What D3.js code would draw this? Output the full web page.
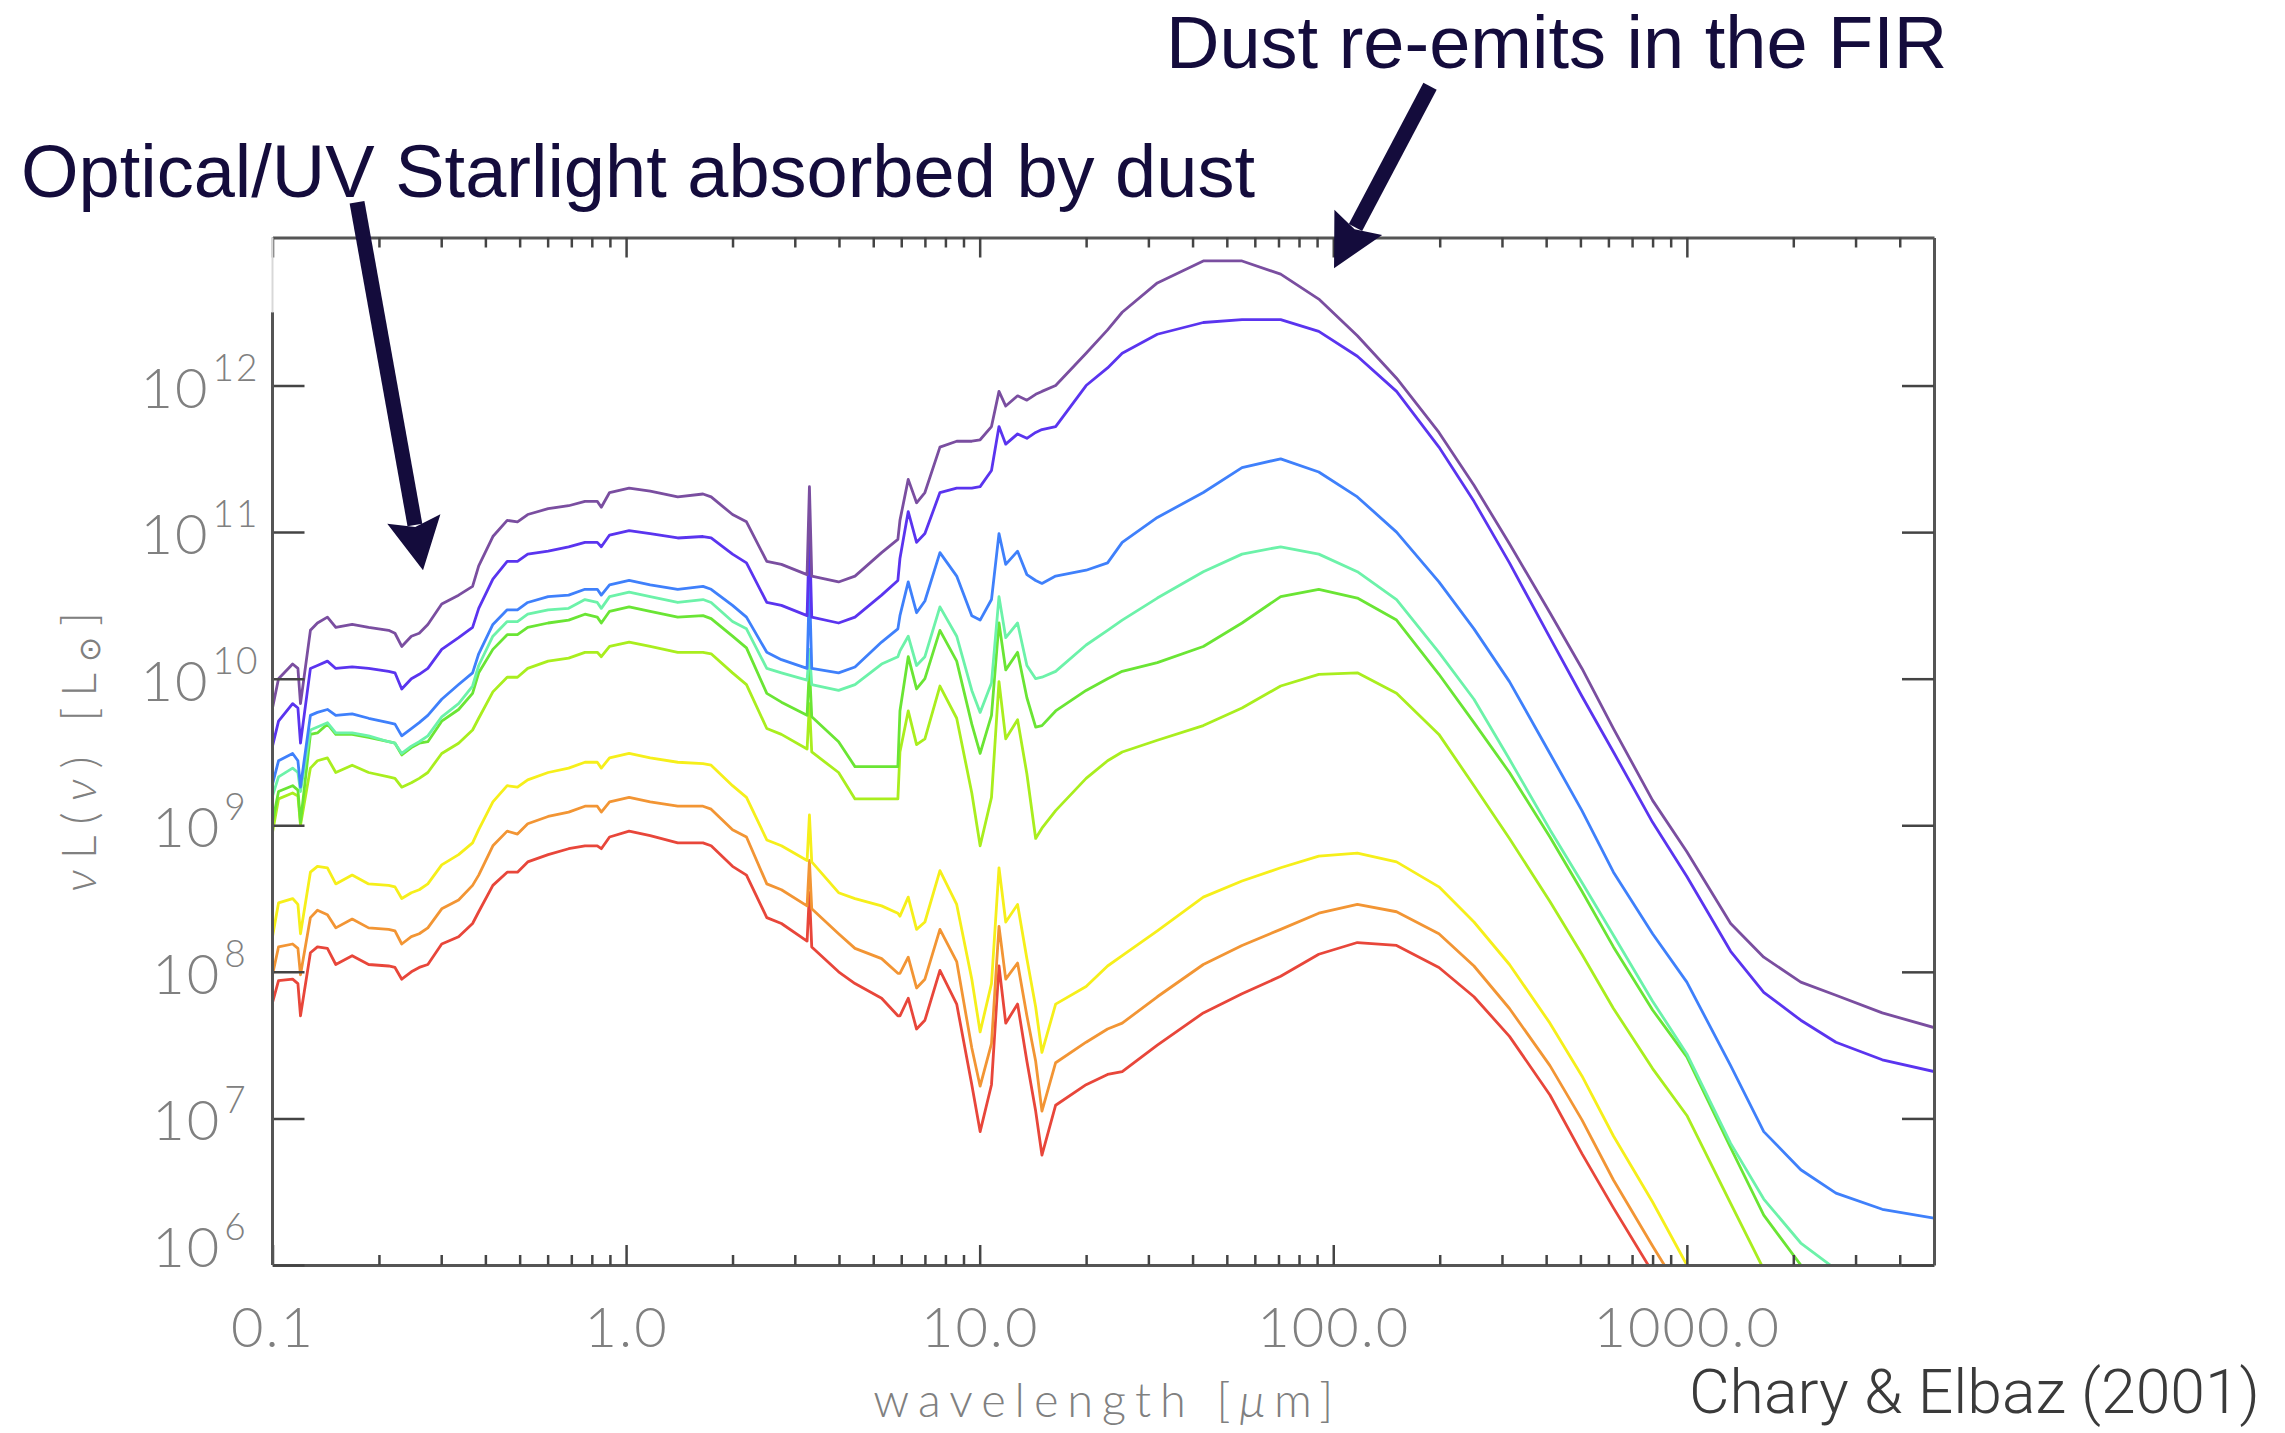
<!DOCTYPE html>
<html lang="en">
<head>
<meta charset="UTF-8">
<title>Chary &amp; Elbaz (2001) SED templates</title>
<script src="https://d3js.org/d3.v7.min.js"></script>
<style>
  body {
    margin: 0;
    background-color: #ffffff;
  }
  .axis .domain {
    stroke: #555;
    stroke-width: 3;
  }
  .axis .tick line {
    stroke: #444;
    stroke-width: 2.5;
  }
  .axis text, .ylabels text {
    font-family: Lato, "DejaVu Sans", sans-serif;
    font-weight: 300;
    font-size: 56px;
    letter-spacing: 2px;
    fill: #808080;
  }
  .title {
    font-family: Lato, "DejaVu Sans", sans-serif;
    font-weight: 300;
    font-size: 47px;
    fill: #808080;
  }
  .note {
    font-family: "Liberation Sans", Arial, sans-serif;
    font-size: 74px;
    fill: #140c3c;
  }
  .cite {
    font-family: Roboto, "Liberation Sans", sans-serif;
    font-weight: 300;
    font-size: 62px;
    fill: #3a3a3a;
  }
</style>
</head>
<body>
<svg id="sed"></svg>

<script>
// wavelength grid in micron
var wavelength = [
  0.100, 0.104, 0.114, 0.118, 0.120, 0.128, 0.134, 0.143, 0.151, 0.168,
  0.187, 0.213, 0.222, 0.232, 0.247, 0.260, 0.275, 0.301, 0.336, 0.368,
  0.383, 0.420, 0.461, 0.493, 0.527, 0.602, 0.688, 0.765, 0.829, 0.851,
  0.898, 1.02, 1.17, 1.40, 1.65, 1.74, 2.00, 2.19, 2.50, 2.75,
  3.25, 3.30, 3.35, 3.99, 4.44, 5.28, 5.87, 5.95, 6.28, 6.63,
  7.00, 7.72, 8.61, 9.50, 10.03, 10.8, 11.34, 11.85, 12.8, 13.6,
  14.4, 15.0, 16.4, 20, 23, 25.3, 31.8, 42.9, 55.2, 71,
  91, 117, 151, 199, 250, 315, 410, 505, 620, 800,
  1000, 1330, 1650, 2100, 2640, 3570, 5000
];

// log10 of nuL(nu) in L_sun, one template per array, brightest first
var sed1 = [
  9.80, 10.00, 10.10, 10.07, 9.83, 10.33, 10.38, 10.42, 10.35, 10.37,
  10.35, 10.33, 10.31, 10.22, 10.29, 10.31, 10.37, 10.51, 10.57, 10.63,
  10.77, 10.97, 11.08, 11.07, 11.12, 11.16, 11.18, 11.21, 11.21, 11.17,
  11.27, 11.30, 11.28, 11.24, 11.26, 11.24, 11.12, 11.07, 10.80, 10.78,
  10.71, 11.31, 10.70, 10.66, 10.70, 10.86, 10.95, 11.08, 11.36, 11.20,
  11.27, 11.58, 11.62, 11.62, 11.63, 11.72, 11.96, 11.86, 11.93, 11.90,
  11.94, 11.96, 12.00, 12.22, 12.38, 12.50, 12.70, 12.85, 12.85, 12.76,
  12.59, 12.34, 12.05, 11.68, 11.32, 10.92, 10.45, 10.07, 9.66, 9.17,
  8.82, 8.33, 8.10, 7.93, 7.84, 7.72, 7.62
];
var sed2 = [
  9.54, 9.71, 9.83, 9.80, 9.56, 10.07, 10.09, 10.12, 10.07, 10.08,
  10.07, 10.05, 10.04, 9.93, 10.00, 10.03, 10.07, 10.20, 10.28, 10.35,
  10.48, 10.68, 10.80, 10.80, 10.85, 10.87, 10.90, 10.93, 10.93, 10.90,
  10.98, 11.01, 10.99, 10.96, 10.97, 10.96, 10.85, 10.79, 10.52, 10.50,
  10.43, 11.02, 10.42, 10.38, 10.42, 10.57, 10.67, 10.82, 11.14, 10.93,
  10.99, 11.27, 11.30, 11.30, 11.31, 11.42, 11.72, 11.60, 11.67, 11.64,
  11.68, 11.70, 11.72, 12.00, 12.12, 12.22, 12.35, 12.43, 12.45, 12.45,
  12.37, 12.20, 11.96, 11.58, 11.21, 10.79, 10.28, 9.88, 9.50, 9.02,
  8.65, 8.14, 7.86, 7.67, 7.52, 7.40, 7.32
];
var sed3 = [
  9.28, 9.44, 9.49, 9.44, 9.26, 9.75, 9.77, 9.79, 9.75, 9.76,
  9.73, 9.70, 9.69, 9.61, 9.66, 9.70, 9.75, 9.86, 9.96, 10.04,
  10.17, 10.37, 10.47, 10.47, 10.52, 10.56, 10.57, 10.61, 10.61, 10.57,
  10.64, 10.67, 10.64, 10.61, 10.63, 10.61, 10.50, 10.42, 10.18, 10.13,
  10.07, 10.65, 10.07, 10.04, 10.08, 10.25, 10.34, 10.43, 10.66, 10.45,
  10.53, 10.86, 10.70, 10.43, 10.40, 10.54, 10.99, 10.78, 10.87, 10.71,
  10.67, 10.65, 10.70, 10.74, 10.79, 10.93, 11.10, 11.27, 11.44, 11.50,
  11.41, 11.24, 11.00, 10.66, 10.34, 9.98, 9.49, 9.10, 8.68, 8.26,
  7.93, 7.36, 6.91, 6.65, 6.49, 6.38, 6.32
];
var sed4 = [
  9.20, 9.33, 9.39, 9.36, 9.23, 9.65, 9.67, 9.70, 9.63, 9.63,
  9.61, 9.57, 9.56, 9.49, 9.54, 9.57, 9.61, 9.74, 9.83, 9.95,
  10.09, 10.29, 10.39, 10.39, 10.44, 10.47, 10.48, 10.54, 10.52, 10.48,
  10.56, 10.59, 10.56, 10.52, 10.54, 10.52, 10.39, 10.34, 10.07, 10.04,
  9.99, 10.20, 9.96, 9.92, 9.96, 10.10, 10.15, 10.19, 10.29, 10.09,
  10.15, 10.49, 10.29, 9.92, 9.77, 9.97, 10.56, 10.28, 10.38, 10.09,
  10.00, 10.01, 10.05, 10.23, 10.33, 10.40, 10.55, 10.73, 10.85, 10.90,
  10.85, 10.73, 10.54, 10.18, 9.86, 9.45, 8.97, 8.61, 8.25, 7.80,
  7.44, 6.83, 6.45, 6.15, 5.97, 5.55, null
];
var sed5 = [
  9.02, 9.23, 9.27, 9.24, 9.02, 9.62, 9.63, 9.69, 9.62, 9.62,
  9.60, 9.57, 9.56, 9.48, 9.53, 9.56, 9.57, 9.71, 9.79, 9.90,
  10.04, 10.20, 10.30, 10.30, 10.35, 10.38, 10.40, 10.44, 10.42, 10.38,
  10.46, 10.49, 10.46, 10.42, 10.43, 10.41, 10.29, 10.21, 9.90, 9.84,
  9.75, 10.08, 9.74, 9.57, 9.40, 9.40, 9.40, 9.78, 10.15, 9.93,
  10.00, 10.33, 10.12, 9.69, 9.49, 9.75, 10.38, 10.06, 10.18, 9.87,
  9.67, 9.68, 9.78, 9.92, 10.00, 10.05, 10.11, 10.22, 10.38, 10.56,
  10.61, 10.55, 10.40, 10.03, 9.70, 9.36, 8.92, 8.55, 8.17, 7.74,
  7.42, 6.80, 6.34, 6.00, 5.60, null, null
];
var sed6 = [
  8.95, 9.18, 9.22, 9.20, 9.00, 9.39, 9.44, 9.46, 9.36, 9.41,
  9.36, 9.33, 9.32, 9.26, 9.29, 9.32, 9.36, 9.49, 9.56, 9.65,
  9.73, 9.91, 10.01, 10.01, 10.07, 10.12, 10.14, 10.18, 10.18, 10.15,
  10.22, 10.25, 10.22, 10.18, 10.18, 10.17, 10.04, 9.96, 9.66, 9.62,
  9.52, 9.83, 9.50, 9.36, 9.18, 9.18, 9.18, 9.50, 9.78, 9.55,
  9.59, 9.95, 9.73, 9.22, 8.86, 9.19, 9.98, 9.59, 9.72, 9.35,
  8.91, 8.98, 9.10, 9.32, 9.44, 9.50, 9.58, 9.68, 9.80, 9.95,
  10.03, 10.04, 9.90, 9.62, 9.27, 8.91, 8.48, 8.12, 7.75, 7.34,
  7.02, 6.42, 5.97, 5.50, null, null, null
];
var sed7 = [
  8.24, 8.47, 8.50, 8.46, 8.26, 8.68, 8.72, 8.71, 8.60, 8.66,
  8.60, 8.59, 8.58, 8.50, 8.54, 8.56, 8.60, 8.73, 8.80, 8.88,
  8.97, 9.16, 9.27, 9.26, 9.31, 9.36, 9.39, 9.43, 9.43, 9.39,
  9.46, 9.49, 9.46, 9.43, 9.42, 9.41, 9.27, 9.19, 8.90, 8.86,
  8.76, 9.07, 8.75, 8.54, 8.50, 8.45, 8.40, 8.38, 8.51, 8.29,
  8.34, 8.69, 8.46, 7.95, 7.59, 7.92, 8.71, 8.34, 8.46, 8.09,
  7.76, 7.45, 7.78, 7.90, 8.04, 8.11, 8.28, 8.51, 8.62, 8.71,
  8.79, 8.81, 8.75, 8.58, 8.34, 8.05, 7.65, 7.29, 6.88, 6.43,
  6.00, 5.40, null, null, null, null, null
];
var sed8 = [
  7.98, 8.17, 8.19, 8.16, 7.98, 8.37, 8.42, 8.39, 8.30, 8.36,
  8.30, 8.29, 8.28, 8.19, 8.24, 8.26, 8.30, 8.43, 8.49, 8.59,
  8.66, 8.86, 8.96, 8.94, 9.01, 9.06, 9.09, 9.13, 9.13, 9.09,
  9.16, 9.19, 9.16, 9.13, 9.13, 9.11, 8.97, 8.92, 8.60, 8.56,
  8.45, 8.76, 8.43, 8.26, 8.16, 8.09, 7.99, 7.99, 8.10, 7.89,
  7.95, 8.29, 8.07, 7.48, 7.22, 7.51, 8.31, 7.95, 8.06, 7.70,
  7.39, 7.05, 7.38, 7.52, 7.61, 7.65, 7.83, 8.05, 8.18, 8.29,
  8.40, 8.46, 8.41, 8.26, 8.04, 7.75, 7.36, 6.99, 6.58, 6.13,
  5.75, 5.20, null, null, null, null, null
];
var sed9 = [
  7.79, 7.94, 7.95, 7.92, 7.70, 8.13, 8.17, 8.16, 8.05, 8.11,
  8.05, 8.04, 8.03, 7.95, 8.00, 8.03, 8.05, 8.19, 8.24, 8.33,
  8.41, 8.59, 8.68, 8.68, 8.75, 8.80, 8.84, 8.86, 8.86, 8.84,
  8.92, 8.96, 8.93, 8.88, 8.88, 8.86, 8.72, 8.66, 8.37, 8.33,
  8.21, 8.54, 8.17, 8.00, 7.92, 7.82, 7.70, 7.70, 7.82, 7.61,
  7.67, 8.01, 7.78, 7.23, 6.91, 7.23, 8.04, 7.65, 7.78, 7.39,
  7.05, 6.75, 7.09, 7.23, 7.30, 7.32, 7.50, 7.72, 7.85, 7.97,
  8.12, 8.20, 8.18, 8.03, 7.83, 7.56, 7.16, 6.76, 6.39, 5.95,
  5.55, null, null, null, null, null, null
];

var sedColors = ["#7a4ea0", "#5a34ef", "#3f80fb", "#6cf2a9", "#6ae534",
                 "#a9ee1e", "#f6ef1a", "#f29534", "#e8463a"];

// axis ticks
var xMajor = [0.1, 1, 10, 100, 1000];
var xTickLabels = ["0.1", "1.0", "10.0", "100.0", "1000.0"];
var yExponents = [6, 7, 8, 9, 10, 11, 12];

// arrows: tip in data units, tail offset in pixels
var arrows = [
  { lam: 0.2665, logL: 10.74, dx: -66, dy: -368 },
  { lam: 100.5, logL: 12.80, dx: 96, dy: -182 }
];

var W = 2285, H = 1433;
var plot = { left: 272.5, right: 1934, top: 237.5, bottom: 1265 };

var svg = d3.select("#sed")
  .attr("width", W)
  .attr("height", H)
  .style("display", "block");

var x = d3.scaleLog().domain([0.1, 5000]).range([plot.left, plot.right]);
var y = d3.scaleLog().domain([1e6, Math.pow(10, 13.01)]).range([plot.bottom, plot.top]);

svg.append("clipPath").attr("id", "plotclip")
  .append("rect")
  .attr("x", plot.left).attr("y", plot.top)
  .attr("width", plot.right - plot.left)
  .attr("height", plot.bottom - plot.top);

// curves
var series = [sed1, sed2, sed3, sed4, sed5, sed6, sed7, sed8, sed9];
var line = d3.line()
  .defined(function(d) { return d[1] !== null; })
  .x(function(d) { return x(d[0]); })
  .y(function(d) { return y(Math.pow(10, d[1])); });

var curves = svg.append("g").attr("clip-path", "url(#plotclip)");
for (var s = series.length - 1; s >= 0; s--) {
  var pts = wavelength.map(function(w, i) { return [w, series[s][i]]; });
  curves.append("path")
    .datum(pts)
    .attr("fill", "none")
    .attr("stroke", sedColors[s])
    .attr("stroke-width", 2.8)
    .attr("stroke-linejoin", "round")
    .attr("d", line);
}

// minor ticks on the x axis
var xMinor = [];
[0.1, 1, 10, 100, 1000].forEach(function(dec) {
  for (var k = 2; k <= 9; k++) {
    if (k * dec < 4990) xMinor.push(k * dec);
  }
});

// bottom axis
svg.append("g").attr("class", "axis")
  .attr("transform", "translate(0," + plot.bottom + ")")
  .call(d3.axisBottom(x).tickValues(xMajor).tickSize(-20).tickSizeOuter(0)
    .tickPadding(42).tickFormat(function(d, i) { return xTickLabels[i]; }));
svg.append("g").attr("class", "axis")
  .attr("transform", "translate(0," + plot.bottom + ")")
  .call(d3.axisBottom(x).tickValues(xMinor).tickSize(-10).tickFormat(""))
  .select(".domain").remove();

// top axis
svg.append("g").attr("class", "axis")
  .attr("transform", "translate(0," + plot.top + ")")
  .call(d3.axisTop(x).tickValues(xMajor).tickSize(-20).tickSizeOuter(0).tickFormat(""));
svg.append("g").attr("class", "axis")
  .attr("transform", "translate(0," + plot.top + ")")
  .call(d3.axisTop(x).tickValues(xMinor).tickSize(-10).tickFormat(""))
  .select(".domain").remove();

// left axis (spine drawn by hand: its top part is faint in the original)
var yDecades = yExponents.map(function(e) { return Math.pow(10, e); });
svg.append("g").attr("class", "axis")
  .attr("transform", "translate(" + plot.left + ",0)")
  .call(d3.axisLeft(y).tickValues(yDecades).tickSize(-32).tickFormat(""))
  .select(".domain").remove();
svg.append("line")
  .attr("x1", plot.left).attr("x2", plot.left)
  .attr("y1", y(Math.pow(10, 12.5))).attr("y2", plot.bottom)
  .attr("stroke", "#555").attr("stroke-width", 3);
svg.append("line")
  .attr("x1", plot.left).attr("x2", plot.left)
  .attr("y1", plot.top).attr("y2", y(Math.pow(10, 12.5)))
  .attr("stroke", "#d8d8d8").attr("stroke-width", 2);

// right axis
svg.append("g").attr("class", "axis")
  .attr("transform", "translate(" + plot.right + ",0)")
  .call(d3.axisRight(y).tickValues(yDecades).tickSize(-32).tickSizeOuter(0).tickFormat(""));

// y tick labels 10^n
var yLabels = svg.append("g").attr("class", "ylabels");
yExponents.forEach(function(e, i) {
  var t = yLabels.append("text")
    .attr("x", 200)
    .attr("y", y(Math.pow(10, e)) + (i === 0 ? 2 : 22))
    .attr("text-anchor", "middle");
  t.append("tspan").text("10");
  t.append("tspan").attr("dx", 3).attr("dy", -27).style("font-size", "37px").text(e);
});

// axis titles
var xt = svg.append("text").attr("class", "title")
  .attr("x", (plot.left + plot.right) / 2)
  .attr("y", 1417)
  .attr("text-anchor", "middle")
  .attr("textLength", 460)
  .attr("lengthAdjust", "spacing");
xt.append("tspan").text("wavelength [");
xt.append("tspan").style("font-style", "italic").text("\u03bc");
xt.append("tspan").text("m]");

var yt = svg.append("text").attr("class", "title")
  .attr("transform", "translate(96,752) rotate(-90)")
  .attr("text-anchor", "middle")
  .attr("textLength", 280)
  .attr("lengthAdjust", "spacing");
yt.append("tspan").style("font-style", "italic").text("\u03bd");
yt.append("tspan").text("L(");
yt.append("tspan").style("font-style", "italic").text("\u03bd");
yt.append("tspan").text(") [L");
yt.append("tspan").attr("dy", 4).style("font-size", "30px").text("\u2299");
yt.append("tspan").attr("dy", -4).text("]");

// annotations
svg.append("text").attr("class", "note")
  .attr("x", 21).attr("y", 197)
  .text("Optical/UV Starlight absorbed by dust");
svg.append("text").attr("class", "note")
  .attr("x", 1166).attr("y", 68)
  .text("Dust re-emits in the FIR");
svg.append("text").attr("class", "cite")
  .attr("x", 1689).attr("y", 1413)
  .attr("textLength", 571)
  .attr("lengthAdjust", "spacingAndGlyphs")
  .text("Chary & Elbaz (2001)");

arrows.forEach(function(a) {
  var tx = x(a.lam), ty = y(Math.pow(10, a.logL));
  var sx = tx + a.dx, sy = ty + a.dy;
  var len = Math.sqrt(a.dx * a.dx + a.dy * a.dy);
  var ux = -a.dx / len, uy = -a.dy / len;
  var headLen = 52, halfW = 27;
  var bx = tx - ux * headLen, by = ty - uy * headLen;
  svg.append("line")
    .attr("x1", sx).attr("y1", sy)
    .attr("x2", bx + ux * 6).attr("y2", by + uy * 6)
    .attr("stroke", "#140c3c").attr("stroke-width", 15);
  svg.append("path")
    .attr("d", "M" + tx + "," + ty +
      "L" + (bx - uy * halfW) + "," + (by + ux * halfW) +
      "L" + (bx + ux * 8) + "," + (by + uy * 8) +
      "L" + (bx + uy * halfW) + "," + (by - ux * halfW) + "Z")
    .attr("fill", "#140c3c");
});
</script>
</body>
</html>
